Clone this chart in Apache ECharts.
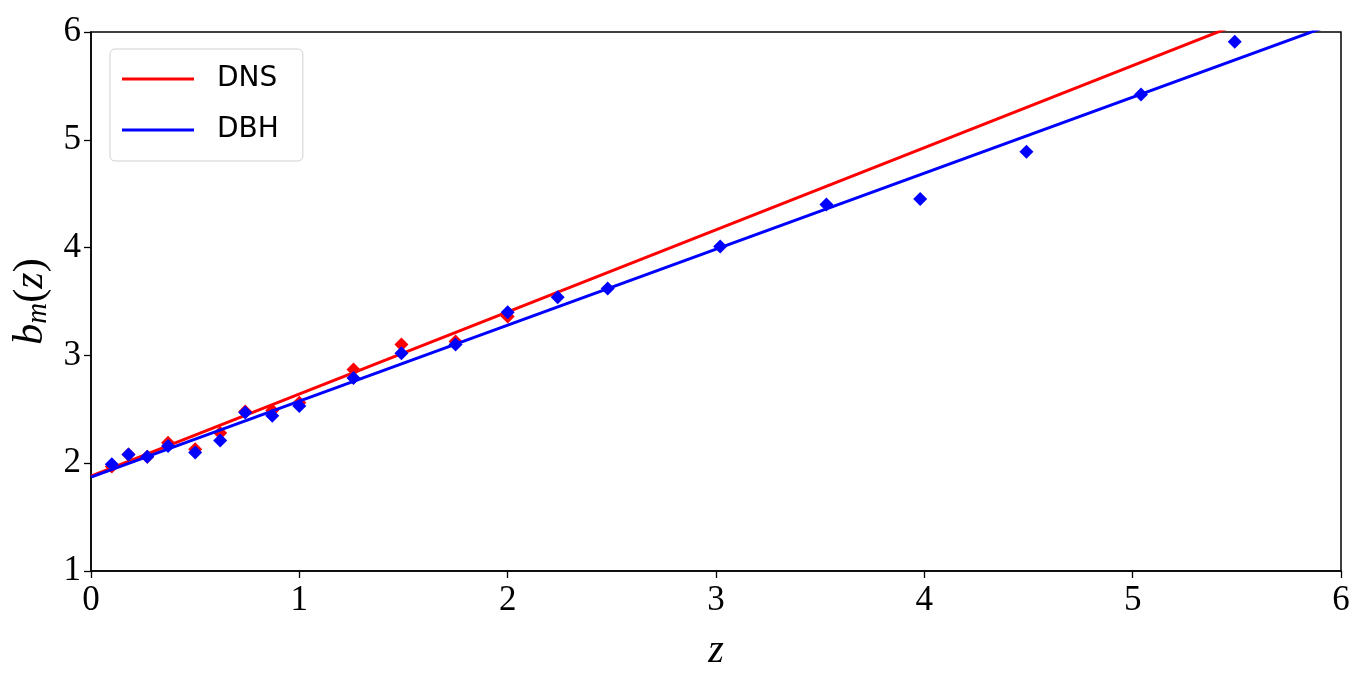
<!DOCTYPE html>
<html>
<head>
<meta charset="utf-8">
<script src="https://cdn.jsdelivr.net/npm/echarts@6/dist/echarts.min.js"></script>
<style>
  html, body { margin: 0; padding: 0; background: #fff; }
  #chart { width: 1366px; height: 685px; }
</style>
</head>
<body>
<div id="chart"></div>
<script>
// measured points b_m(z)
const dnsZ = [0.10, 0.18, 0.27, 0.37, 0.50, 0.62, 0.74, 0.87, 1.00, 1.26, 1.49, 1.75, 2.00];
const dnsB = [1.97, 2.08, 2.06, 2.19, 2.13, 2.28, 2.48, 2.49, 2.56, 2.87, 3.10, 3.13, 3.36];

const dbhZ = [0.10, 0.18, 0.27, 0.37, 0.50, 0.62, 0.74, 0.87, 1.00, 1.26, 1.49, 1.75, 2.00,
              2.24, 2.48, 3.02, 3.53, 3.98, 4.49, 5.04, 5.49];
const dbhB = [1.99, 2.08, 2.06, 2.16, 2.10, 2.21, 2.47, 2.44, 2.53, 2.79, 3.02, 3.10, 3.40,
              3.54, 3.62, 4.01, 4.40, 4.45, 4.89, 5.42, 5.91];

// linear fits: end points at z = 0 and z = 6
const dnsFit = [[0, 1.88], [6, 6.45]];
const dbhFit = [[0, 1.87], [6, 6.10]];

const xTicks = [0, 1, 2, 3, 4, 5, 6];
const yTicks = [1, 2, 3, 4, 5, 6];

const serif = 'Liberation Serif';
const pair = (xs, ys) => xs.map((x, i) => [x, ys[i]]);

const chart = echarts.init(document.getElementById('chart'));
chart.setOption({
  animation: false,
  grid: {
    left: 91, right: 25, top: 32, bottom: 114,
    outerBoundsMode: 'none',
    show: true, borderColor: '#000', borderWidth: 1.5
  },
  legend: {
    data: ['DNS', 'DBH'],
    orient: 'vertical',
    left: 110, top: 49,
    icon: 'rect',
    itemWidth: 72, itemHeight: 3,
    itemGap: 23,
    padding: [16, 24, 17, 12],
    backgroundColor: '#fff',
    borderColor: '#d0d0d0', borderWidth: 1, borderRadius: 5,
    textStyle: { fontFamily: 'DejaVu Sans', fontSize: 28, color: '#000', padding: [0, 0, 0, 18] }
  },
  xAxis: {
    type: 'value', min: 0, max: 6, interval: 1,
    name: 'z', nameLocation: 'middle', nameGap: 60,
    nameTextStyle: { fontFamily: serif, fontStyle: 'italic', fontSize: 40, color: '#000' },
    axisLine: { show: true, lineStyle: { color: '#000', width: 1.5 } },
    axisTick: { show: true, inside: false, length: 7, lineStyle: { color: '#000', width: 1.3 } },
    axisLabel: { fontFamily: serif, fontSize: 35, color: '#000', margin: 12,
                 formatter: v => xTicks.includes(v) ? String(v) : '' },
    splitLine: { show: false }
  },
  yAxis: {
    type: 'value', min: 1, max: 6, interval: 1,
    name: '{b|b}{m|m}{p|(}{z|z}{p|)}', nameLocation: 'middle', nameGap: 36, nameRotate: 90,
    nameTextStyle: {
      color: '#000',
      rich: {
        b: { fontFamily: serif, fontStyle: 'italic', fontSize: 42, color: '#000', lineHeight: 44, verticalAlign: 'middle' },
        m: { fontFamily: serif, fontStyle: 'italic', fontSize: 29, color: '#000', lineHeight: 44, verticalAlign: 'bottom', padding: [16, 0, 0, 0] },
        p: { fontFamily: serif, fontSize: 42, color: '#000', lineHeight: 44, verticalAlign: 'middle' },
        z: { fontFamily: serif, fontStyle: 'italic', fontSize: 42, color: '#000', lineHeight: 44, verticalAlign: 'middle' }
      }
    },
    axisLine: { show: true, lineStyle: { color: '#000', width: 1.5 } },
    axisTick: { show: true, inside: false, length: 7, lineStyle: { color: '#000', width: 1.3 } },
    axisLabel: { fontFamily: serif, fontSize: 35, color: '#000', margin: 10,
                 formatter: v => yTicks.includes(v) ? String(v) : '' },
    splitLine: { show: false }
  },
  series: [
    {
      name: 'DNS pts', type: 'scatter', z: 1,
      symbol: 'diamond', symbolSize: 14,
      itemStyle: { color: '#ff0000', opacity: 1 },
      data: pair(dnsZ, dnsB)
    },
    {
      name: 'DNS', type: 'line', z: 2, showSymbol: false, symbol: 'none',
      lineStyle: { color: '#ff0000', width: 3 }, itemStyle: { color: '#ff0000' },
      data: dnsFit
    },
    {
      name: 'DBH pts', type: 'scatter', z: 3,
      symbol: 'diamond', symbolSize: 14,
      itemStyle: { color: '#0000ff', opacity: 1 },
      data: pair(dbhZ, dbhB)
    },
    {
      name: 'DBH', type: 'line', z: 4, showSymbol: false, symbol: 'none',
      lineStyle: { color: '#0000ff', width: 3 }, itemStyle: { color: '#0000ff' },
      data: dbhFit
    }
  ]
});
</script>
</body>
</html>
